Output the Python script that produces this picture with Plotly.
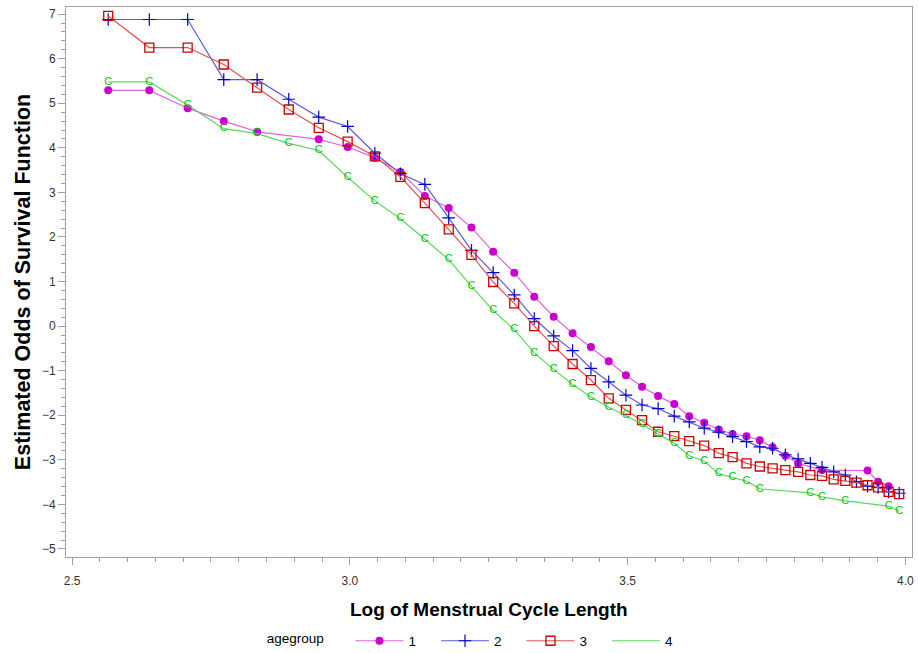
import plotly.graph_objects as go

# ---- data (log of menstrual cycle length, estimated odds) ----
x_g1 = [2.565, 2.639, 2.708, 2.773, 2.833, 2.944, 2.996, 3.045, 3.091, 3.135, 3.178, 3.219,
        3.258, 3.296, 3.332, 3.367, 3.401, 3.434, 3.466, 3.497, 3.526, 3.555, 3.584, 3.611,
        3.638, 3.664, 3.689, 3.714, 3.738, 3.761, 3.784, 3.807, 3.850, 3.932, 3.951, 3.970]
y_g1 = [5.29, 5.29, 4.89, 4.60, 4.36, 4.19, 4.02, 3.78, 3.46, 2.92, 2.65, 2.21,
        1.67, 1.20, 0.66, 0.21, -0.16, -0.47, -0.79, -1.10, -1.36, -1.57, -1.75, -2.02,
        -2.17, -2.32, -2.42, -2.47, -2.56, -2.72, -2.91, -3.08, -3.23, -3.24, -3.49, -3.59]

x_g2 = [2.565, 2.639, 2.708, 2.773, 2.833, 2.890, 2.944, 2.996, 3.045, 3.091, 3.135, 3.178,
        3.219, 3.258, 3.296, 3.332, 3.367, 3.401, 3.434, 3.466, 3.497, 3.526, 3.555, 3.584,
        3.611, 3.638, 3.664, 3.689, 3.714, 3.738, 3.761, 3.784, 3.807, 3.829, 3.850, 3.871,
        3.892, 3.912, 3.932, 3.951, 3.970, 3.989]
y_g2 = [6.88, 6.88, 6.88, 5.53, 5.53, 5.09, 4.69, 4.48, 3.88, 3.42, 3.18, 2.43,
        1.70, 1.20, 0.70, 0.17, -0.22, -0.55, -0.95, -1.25, -1.55, -1.77, -1.85, -2.02,
        -2.15, -2.29, -2.38, -2.48, -2.59, -2.71, -2.74, -2.89, -2.98, -3.08, -3.17, -3.27,
        -3.34, -3.49, -3.59, -3.62, -3.72, -3.75]

x_g3 = [2.565, 2.639, 2.708, 2.773, 2.833, 2.890, 2.944, 2.996, 3.045, 3.091, 3.135, 3.178,
        3.219, 3.258, 3.296, 3.332, 3.367, 3.401, 3.434, 3.466, 3.497, 3.526, 3.555, 3.584,
        3.611, 3.638, 3.664, 3.689, 3.714, 3.738, 3.761, 3.784, 3.807, 3.829, 3.850, 3.871,
        3.892, 3.912, 3.932, 3.951, 3.970, 3.989]
y_g3 = [6.96, 6.25, 6.25, 5.87, 5.35, 4.86, 4.45, 4.14, 3.81, 3.35, 2.76, 2.17,
        1.60, 0.99, 0.51, 0.00, -0.45, -0.85, -1.21, -1.62, -1.88, -2.11, -2.37, -2.47,
        -2.58, -2.68, -2.85, -2.94, -3.08, -3.15, -3.19, -3.23, -3.27, -3.34, -3.36, -3.44,
        -3.47, -3.51, -3.57, -3.62, -3.72, -3.77]

x_g4 = [2.565, 2.639, 2.708, 2.773, 2.833, 2.890, 2.944, 2.996, 3.045, 3.091, 3.135, 3.178,
        3.219, 3.258, 3.296, 3.332, 3.367, 3.401, 3.434, 3.466, 3.497, 3.526, 3.555, 3.584,
        3.611, 3.638, 3.664, 3.689, 3.714, 3.738, 3.829, 3.850, 3.892, 3.970, 3.989]
y_g4 = [5.48, 5.48, 4.96, 4.43, 4.32, 4.10, 3.94, 3.34, 2.81, 2.41, 1.95, 1.49,
        0.89, 0.35, -0.08, -0.60, -0.97, -1.31, -1.59, -1.82, -2.01, -2.20, -2.42, -2.63,
        -2.91, -3.03, -3.31, -3.39, -3.48, -3.65, -3.74, -3.83, -3.92, -4.04, -4.15]

group_names = ["1", "2", "3", "4"]
legend_title = "agegroup"
x_title = "Log of Menstrual Cycle Length"
y_title = "Estimated Odds of Survival Function"
x_ticks = [2.5, 3.0, 3.5, 4.0]
x_tick_labels = ["2.5", "3.0", "3.5", "4.0"]
y_ticks = [-5, -4, -3, -2, -1, 0, 1, 2, 3, 4, 5, 6, 7]

FONT = "Liberation Sans, Arial, sans-serif"
PAD = "\u00a0" * 4
TPAD = "\u00a0" * 5

fig = go.Figure()

fig.add_trace(go.Scatter(
    x=x_g1, y=y_g1, name=group_names[0] + PAD, mode="lines+markers",
    line=dict(color="rgb(222,100,222)", width=1.2),
    marker=dict(symbol="circle", size=8, color="rgb(204,0,204)"),
))
fig.add_trace(go.Scatter(
    x=x_g2, y=y_g2, name=group_names[1] + PAD, mode="lines+markers",
    line=dict(color="rgb(90,90,225)", width=1.2),
    marker=dict(symbol="cross-thin", size=9, color="rgb(0,0,204)",
                line=dict(color="rgb(0,0,204)", width=1.2)),
))
fig.add_trace(go.Scatter(
    x=x_g3, y=y_g3, name=group_names[2] + PAD, mode="lines+markers",
    line=dict(color="rgb(228,80,80)", width=1.2),
    marker=dict(symbol="square-open", size=9, color="rgb(204,0,0)",
                line=dict(color="rgb(204,0,0)", width=1.3)),
))
fig.add_trace(go.Scatter(
    x=x_g4, y=y_g4, name=group_names[3], mode="lines+text",
    text=["C"] * len(x_g4), textposition="middle center",
    textfont=dict(family=FONT, size=11, color="rgb(0,195,0)"),
    line=dict(color="rgb(90,215,90)", width=1.2),
    showlegend=False,
))
# legend entry for group 4
fig.add_trace(go.Scatter(
    x=[None], y=[None], name=group_names[3], mode="lines",
    line=dict(color="rgb(90,215,90)", width=1.2),
))

axis_common = dict(
    showgrid=False, zeroline=False, showline=True, linecolor="#A0A0A0",
    linewidth=1, mirror=True, ticks="outside", ticklen=7, tickcolor="#A0A0A0",
    tickfont=dict(family=FONT, size=12, color="#333333"),
)

fig.update_layout(
    width=918, height=653,
    margin=dict(l=66, r=6, t=7, b=96, autoexpand=False),
    paper_bgcolor="white", plot_bgcolor="white",
    font=dict(family=FONT, color="black"),
    xaxis=dict(
        range=[2.489, 4.012], tickvals=x_ticks, ticktext=x_tick_labels,
        ticklabelstandoff=6,
        minor=dict(dtick=0.05, ticks="outside", ticklen=4, tickcolor="#A0A0A0"),
        **axis_common,
    ),
    yaxis=dict(
        range=[-5.18, 7.16], tickvals=y_ticks,
        ticklabelstandoff=0,
        title=dict(text="<b>" + y_title + "</b>",
                   font=dict(family=FONT, size=21.5, color="black"), standoff=5),
        minor=dict(dtick=0.2, ticks="outside", ticklen=4, tickcolor="#A0A0A0"),
        **axis_common,
    ),
    legend=dict(
        orientation="h", xref="container", yref="container",
        x=0.2883, xanchor="left", y=0.0184, yanchor="middle",
        title=dict(text=legend_title + TPAD, font=dict(family=FONT, size=13.5), side="left"),
        font=dict(family=FONT, size=13.5, color="black"),
        itemwidth=48,
    ),
    annotations=[dict(
        text="<b>" + x_title + "</b>", xref="paper", yref="paper",
        x=0.5, y=-0.096, xanchor="center", yanchor="middle", showarrow=False,
        font=dict(family=FONT, size=19, color="black"),
    )],
)

fig.write_html("out.html", config={"displayModeBar": False},
               post_script="document.body.style.margin='0';")
